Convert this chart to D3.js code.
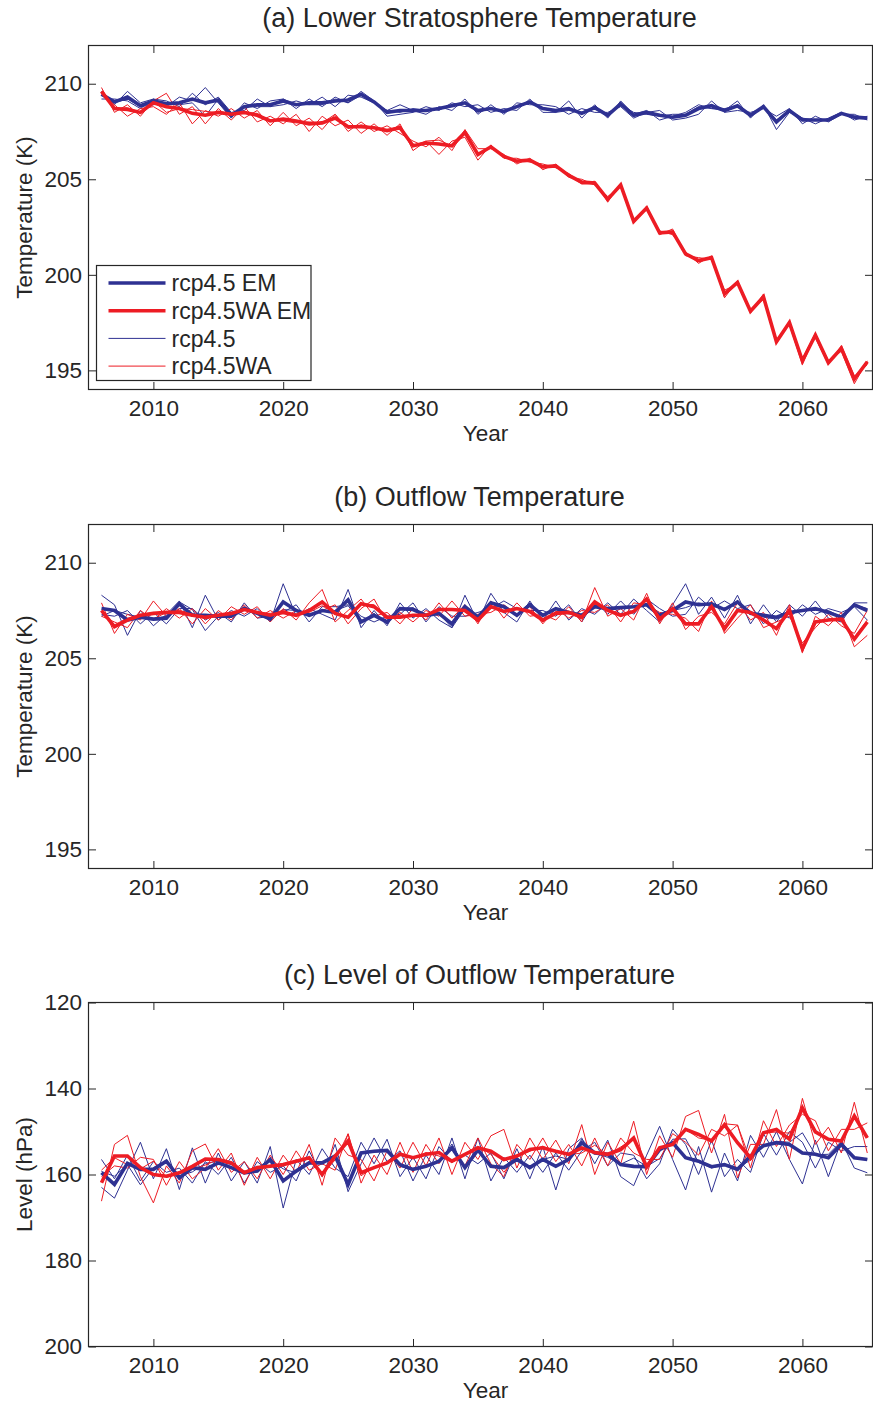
<!DOCTYPE html>
<html>
<head>
<meta charset="utf-8">
<script src="https://cdn.jsdelivr.net/npm/d3@7"></script>
<style>
  body { margin: 0; background: #fff; }
  text { font-family: "Liberation Sans", Arial, Helvetica, sans-serif; fill: #262626; }
</style>
</head>
<body>
<svg id="chart" width="873" height="1404"></svg>
<script>
// ---- categories and tick labels ----
const years = d3.range(2006, 2066);
const yearTicks = [2010, 2020, 2030, 2040, 2050, 2060];
const tempTicks = [195, 200, 205, 210];
const levelTicks = [120, 140, 160, 180, 200];
const panelTitles = ["(a) Lower Stratosphere Temperature", "(b) Outflow Temperature", "(c) Level of Outflow Temperature"];
const panelYLabels = ["Temperature (K)", "Temperature (K)", "Level (hPa)"];
const legendLabels = ["rcp4.5 EM", "rcp4.5WA EM", "rcp4.5", "rcp4.5WA"];

// ---- (a) lower stratosphere temperature, K ----
const strat45EM = [
  209.45, 209.05, 209.3, 208.85, 209.1, 208.95, 209.0, 209.2, 209.0, 209.15,
  208.35, 208.8, 208.9, 208.9, 209.1, 208.9, 209.0, 209.0, 209.1, 209.15,
  209.45, 209.05, 208.5, 208.6, 208.6, 208.6, 208.7, 208.85, 209.0, 208.6,
  208.7, 208.55, 208.8, 209.05, 208.7, 208.6, 208.7, 208.45, 208.75, 208.35,
  208.95, 208.35, 208.5, 208.35, 208.25, 208.35, 208.7, 208.85, 208.6, 208.85,
  208.35, 208.8, 208.0, 208.6, 208.1, 208.1, 208.1, 208.45, 208.25, 208.2];
const strat45M1 = [
  209.6, 208.9, 209.6, 209.0, 209.2, 208.8, 209.3, 209.1, 209.8, 209.0,
  208.2, 209.0, 208.7, 209.1, 209.2, 208.7, 209.2, 208.8, 209.3, 209.0,
  209.6, 209.1, 208.3, 208.4, 208.5, 208.8, 208.6, 209.0, 208.8, 208.9,
  208.5, 208.7, 208.6, 209.2, 208.5, 208.5, 209.1, 208.2, 208.9, 208.2,
  209.1, 208.4, 208.6, 208.1, 208.3, 208.5, 208.9, 208.7, 208.6, 209.1,
  208.2, 208.9, 207.6, 208.5, 208.2, 207.9, 208.2, 208.5, 208.1, 208.3];
const strat45M2 = [
  209.2, 209.2, 209.1, 208.7, 209.2, 209.1, 208.8, 209.5, 208.9, 209.3,
  208.5, 208.6, 209.2, 208.8, 208.9, 209.1, 208.9, 209.3, 208.8, 209.4,
  209.3, 209.0, 208.6, 208.9, 208.6, 208.4, 208.8, 208.6, 209.2, 208.4,
  208.9, 208.4, 209.0, 208.9, 208.9, 208.8, 208.4, 208.7, 208.5, 208.5,
  208.8, 208.2, 208.5, 208.6, 208.1, 208.2, 208.4, 209.1, 208.5, 208.6,
  208.5, 208.7, 208.3, 208.7, 207.9, 208.3, 208.0, 208.4, 208.4, 208.1];
const strat45M3 = [
  209.5, 209.0, 209.2, 208.8, 208.9, 209.0, 208.9, 209.0, 208.3, 209.2,
  208.4, 208.8, 208.8, 208.8, 209.2, 208.9, 208.9, 208.9, 209.2, 209.0,
  209.4, 209.0, 208.6, 208.5, 208.7, 208.6, 208.7, 208.9, 209.0, 208.5,
  208.7, 208.6, 208.8, 209.0, 208.7, 208.5, 208.6, 208.5, 208.8, 208.4,
  208.9, 208.5, 208.4, 208.3, 208.4, 208.4, 208.8, 208.7, 208.7, 208.8,
  208.4, 208.8, 208.1, 208.6, 208.2, 208.1, 208.1, 208.4, 208.3, 208.2];

const stratWAEM = [
  209.6, 208.7, 208.65, 208.5, 209.0, 208.8, 208.7, 208.45, 208.35, 208.5,
  208.4, 208.5, 208.35, 208.05, 208.15, 208.05, 207.9, 207.95, 208.2, 207.75,
  207.75, 207.7, 207.55, 207.7, 206.75, 206.9, 206.85, 206.75, 207.45, 206.3,
  206.7, 206.2, 205.95, 206.0, 205.65, 205.7, 205.2, 204.85, 204.8, 203.95,
  204.7, 202.8, 203.5, 202.2, 202.25, 201.1, 200.75, 200.9, 199.0, 199.6,
  198.1, 198.85, 196.5, 197.5, 195.5, 196.85, 195.4, 196.15, 194.55, 195.45];
const stratWAM1 = [
  209.8, 208.5, 208.9, 208.3, 209.1, 209.5, 208.4, 208.8, 207.9, 208.7,
  208.1, 208.8, 208.0, 208.3, 207.9, 208.4, 207.5, 208.3, 207.8, 208.1,
  207.4, 207.9, 207.3, 207.9, 206.5, 207.0, 206.3, 207.0, 207.2, 206.0,
  206.8, 206.1, 206.1, 205.9, 205.8, 205.6, 205.3, 204.8, 204.9, 203.8,
  204.8, 202.7, 203.6, 202.1, 202.4, 201.0, 200.9, 200.8, 199.2, 199.5,
  198.2, 198.7, 196.6, 197.4, 195.3, 196.9, 195.5, 196.0, 194.3, 195.5];
const stratWAM2 = [
  209.5, 208.9, 208.3, 208.7, 208.8, 208.4, 209.0, 207.9, 208.6, 208.3,
  208.7, 208.2, 208.6, 207.8, 208.5, 207.8, 208.2, 207.6, 208.4, 207.5,
  208.0, 207.5, 207.8, 207.4, 207.0, 206.7, 207.2, 206.5, 207.6, 206.6,
  206.6, 206.3, 205.8, 206.1, 205.5, 205.8, 205.1, 205.0, 204.7, 204.1,
  204.6, 202.9, 203.4, 202.3, 202.1, 201.2, 200.6, 201.0, 198.8, 199.7,
  198.0, 199.0, 196.4, 197.6, 195.6, 196.7, 195.3, 196.3, 194.7, 195.3];
const stratWAM3 = [
  209.5, 208.7, 208.75, 208.5, 209.1, 208.5, 208.7, 208.65, 208.55, 208.5,
  208.4, 208.5, 208.45, 208.05, 208.05, 207.95, 208.0, 207.95, 208.4, 207.65,
  207.85, 207.7, 207.55, 207.8, 206.75, 207.0, 207.05, 206.75, 207.55, 206.3,
  206.7, 206.2, 205.95, 206.0, 205.65, 205.7, 205.2, 204.75, 204.8, 203.95,
  204.7, 202.8, 203.5, 202.2, 202.25, 201.1, 200.75, 200.9, 199.0, 199.6,
  198.1, 198.85, 196.5, 197.5, 195.6, 196.95, 195.4, 196.15, 194.65, 195.45];

// ---- (b) outflow temperature, K ----
const outT45EM = [
  207.6, 207.5, 207.0, 207.15, 207.05, 207.1, 207.85, 207.25, 207.25, 207.2,
  207.2, 207.6, 207.35, 207.05, 207.95, 207.5, 207.25, 207.5, 207.4, 208.05,
  206.9, 207.25, 206.9, 207.6, 207.55, 207.25, 207.35, 206.8, 207.7, 207.15,
  207.9, 207.7, 207.25, 207.8, 207.25, 207.6, 207.4, 207.25, 207.7, 207.6,
  207.65, 207.7, 207.8, 207.25, 207.5, 207.95, 207.8, 207.85, 207.55, 207.95,
  207.35, 207.25, 207.15, 207.4, 207.5, 207.6, 207.4, 207.15, 207.8, 207.5];
const outT45M1 = [
  208.3, 207.8, 206.2, 207.5, 206.7, 207.3, 208.0, 206.6, 208.3, 207.0,
  207.5, 207.2, 207.6, 206.9, 208.9, 207.2, 207.6, 207.3, 207.0, 208.6,
  206.6, 207.5, 206.7, 207.9, 207.1, 207.6, 207.0, 206.6, 208.3, 206.9,
  208.4, 207.4, 206.9, 208.0, 207.0, 208.0, 207.0, 207.6, 207.3, 207.9,
  207.3, 208.1, 207.5, 206.9, 207.8, 208.9, 207.3, 208.2, 207.1, 208.3,
  206.8, 207.8, 206.9, 207.8, 207.2, 208.0, 207.1, 206.9, 207.9, 207.9];
const outT45M2 = [
  207.3, 207.2, 207.5, 206.8, 207.4, 206.8, 207.6, 207.6, 207.0, 207.4,
  206.9, 207.9, 207.1, 207.2, 207.4, 207.8, 206.9, 207.7, 207.7, 207.8,
  207.2, 206.9, 207.2, 207.3, 207.9, 206.9, 207.7, 207.2, 207.2, 207.4,
  207.6, 208.0, 207.6, 207.5, 207.5, 207.2, 207.8, 206.9, 208.0, 207.3,
  208.0, 207.3, 208.1, 207.6, 207.2, 207.3, 208.2, 207.6, 208.0, 207.6,
  207.8, 206.8, 207.5, 207.1, 207.8, 207.3, 207.6, 207.4, 207.7, 207.0];
const outT45M3 = [
  207.2, 207.5, 207.3, 207.15, 207.05, 207.2, 207.95, 207.55, 206.45, 207.2,
  207.2, 207.7, 207.35, 207.05, 207.55, 207.5, 207.25, 207.5, 207.5, 207.75,
  206.9, 207.35, 206.8, 207.6, 207.65, 207.25, 207.35, 206.6, 207.6, 207.15,
  207.7, 207.7, 207.25, 207.9, 207.25, 207.6, 207.4, 207.25, 207.8, 207.6,
  207.65, 207.7, 207.8, 207.25, 207.5, 207.65, 207.9, 207.75, 207.55, 207.95,
  207.45, 207.15, 207.05, 207.3, 207.5, 207.5, 207.5, 207.15, 207.8, 207.6];

const outTWAEM = [
  207.5, 206.65, 207.0, 207.25, 207.35, 207.4, 207.4, 207.25, 207.15, 207.25,
  207.35, 207.55, 207.4, 207.25, 207.4, 207.25, 207.5, 207.95, 207.35, 207.15,
  207.85, 207.7, 207.15, 207.15, 207.25, 207.25, 207.55, 207.55, 207.5, 207.0,
  207.7, 207.45, 207.6, 207.45, 207.0, 207.35, 207.4, 207.15, 207.95, 207.5,
  207.25, 207.45, 208.1, 207.05, 207.6, 206.8, 206.8, 207.7, 206.55, 207.5,
  207.4, 207.0, 206.55, 207.5, 205.5, 206.9, 207.0, 207.05, 206.0, 206.9];
const outTWAM1 = [
  207.9, 206.3, 207.3, 207.0, 208.0, 207.2, 207.6, 206.8, 207.6, 207.0,
  207.7, 207.3, 207.7, 206.9, 207.6, 207.0, 207.9, 208.6, 206.9, 207.5,
  208.1, 207.2, 207.4, 206.8, 207.6, 207.0, 207.9, 207.1, 207.8, 206.8,
  208.0, 207.1, 207.9, 207.2, 207.3, 207.0, 207.7, 206.9, 208.7, 207.2,
  207.6, 207.0, 208.4, 206.8, 207.9, 206.5, 207.2, 207.4, 206.8, 207.9,
  207.0, 207.4, 206.2, 207.8, 205.3, 207.2, 206.7, 207.4, 205.6, 206.2];
const outTWAM2 = [
  207.2, 206.9, 206.6, 207.5, 207.0, 207.6, 207.1, 207.6, 206.8, 207.5,
  207.0, 207.8, 207.1, 207.5, 207.1, 207.5, 207.2, 207.5, 207.8, 206.8,
  207.6, 208.1, 206.9, 207.4, 206.9, 207.5, 207.2, 208.0, 207.2, 207.3,
  207.4, 207.8, 207.3, 207.7, 206.8, 207.6, 207.1, 207.5, 207.4, 207.8,
  206.9, 207.9, 207.8, 207.4, 207.3, 207.1, 206.4, 208.0, 206.3, 207.1,
  207.8, 206.6, 206.9, 207.2, 205.8, 206.6, 207.3, 206.7, 206.3, 207.5];
const outTWAM3 = [
  207.4, 206.75, 207.1, 207.25, 207.05, 207.4, 207.5, 207.35, 207.05, 207.25,
  207.35, 207.55, 207.4, 207.35, 207.5, 207.25, 207.4, 207.75, 207.35, 207.15,
  207.85, 207.8, 207.15, 207.25, 207.25, 207.25, 207.55, 207.55, 207.5, 206.9,
  207.7, 207.45, 207.6, 207.45, 206.9, 207.45, 207.4, 207.05, 207.75, 207.5,
  207.25, 207.45, 208.1, 206.95, 207.6, 206.8, 206.8, 207.7, 206.55, 207.5,
  207.4, 207.0, 206.55, 207.5, 205.4, 206.9, 207.0, 207.05, 206.1, 207.0];

// ---- (c) level of outflow temperature, hPa ----
const outP45EM = [
  159.6, 162.3, 157.4, 158.8, 158.8, 156.9, 160.8, 158.4, 158.8, 157.3,
  158.4, 159.6, 159.2, 156.5, 161.5, 159.2, 157.3, 157.3, 155.7, 162.3,
  155.0, 154.6, 154.4, 157.7, 158.8, 158.1, 156.9, 153.8, 158.4, 154.3,
  158.1, 158.4, 156.5, 158.4, 156.5, 158.1, 156.5, 152.6, 155.0, 155.3,
  157.7, 158.1, 158.2, 154.2, 152.6, 156.1, 156.9, 158.2, 157.7, 158.8,
  155.7, 153.3, 152.6, 153.0, 155.0, 155.3, 156.1, 153.0, 156.1, 156.5];
const outP45M1 = [
  163.0, 165.5, 159.0, 152.5, 161.0, 154.0, 163.5, 153.8, 162.0, 155.0,
  161.5, 157.0, 162.0, 153.5, 167.8, 156.5, 160.0, 154.0, 158.5, 160.5,
  152.5, 157.5, 151.8, 160.5, 156.0, 161.0, 153.5, 157.0, 155.5, 157.5,
  155.0, 161.0, 154.0, 161.0, 153.5, 163.6, 154.0, 151.5, 157.5, 152.0,
  160.5, 162.6, 155.5, 148.8, 156.5, 163.6, 153.5, 164.1, 155.0, 161.5,
  150.9, 156.0, 150.0, 156.5, 162.2, 152.0, 160.5, 152.2, 158.5, 159.6];
const outP45M2 = [
  156.5, 161.0, 155.5, 161.5, 157.0, 159.5, 158.5, 162.0, 157.0, 160.0,
  156.0, 162.0, 157.0, 159.5, 158.0, 161.5, 154.5, 160.5, 153.0, 164.0,
  157.5, 151.5, 157.0, 154.5, 161.5, 155.5, 160.0, 151.5, 161.0, 151.5,
  161.5, 156.0, 159.5, 155.5, 159.5, 155.0, 159.0, 154.5, 152.5, 158.0,
  155.0, 155.5, 161.0, 157.5, 149.5, 153.0, 160.0, 152.0, 160.5, 156.5,
  159.5, 150.5, 155.5, 150.0, 152.5, 158.5, 152.5, 154.5, 153.5, 153.5];
const outP45M3 = [
  159.3, 160.4, 157.7, 162.4, 158.4, 157.2, 160.4, 159.4, 157.4, 156.9,
  157.7, 159.8, 158.6, 156.5, 158.7, 159.6, 157.4, 157.4, 155.6, 162.4,
  155.0, 154.8, 154.4, 158.1, 158.9, 157.8, 157.2, 152.9, 158.7, 153.9,
  157.8, 158.2, 156.0, 158.7, 156.5, 155.7, 156.5, 151.8, 155.0, 156.0,
  157.6, 156.2, 158.1, 156.3, 151.8, 151.7, 157.2, 158.5, 157.6, 158.4,
  156.7, 153.4, 152.3, 152.5, 150.3, 155.4, 155.3, 152.3, 156.3, 156.4];

const outPWAEM = [
  161.9, 155.7, 155.7, 158.4, 160.0, 160.4, 159.6, 158.1, 156.4, 156.5,
  157.3, 159.6, 158.4, 158.1, 157.7, 156.9, 156.1, 160.0, 155.7, 152.2,
  159.6, 158.4, 157.3, 155.3, 156.1, 155.3, 154.9, 156.9, 155.3, 153.8,
  154.6, 156.5, 155.7, 154.2, 153.8, 154.6, 155.3, 153.8, 154.9, 155.3,
  154.2, 151.5, 158.2, 153.8, 153.0, 149.5, 150.7, 152.2, 148.4, 152.6,
  156.1, 150.3, 149.5, 151.8, 144.5, 150.1, 151.8, 152.2, 146.4, 151.5];
const outPWAM1 = [
  166.2, 153.0, 150.9, 160.5, 166.6, 158.0, 162.0, 154.5, 152.9, 159.0,
  155.0, 162.5, 156.0, 161.0, 155.5, 159.5, 153.0, 162.5, 151.5, 155.5,
  156.5, 161.5, 154.5, 158.5, 152.5, 158.0, 151.5, 160.0, 152.5, 156.5,
  151.0, 149.5, 158.5, 151.5, 156.5, 152.0, 157.5, 148.4, 160.0, 152.5,
  157.5, 147.6, 160.0, 151.0, 156.0, 146.5, 145.1, 155.0, 146.0, 160.8,
  153.0, 153.0, 144.9, 156.5, 142.3, 153.0, 149.0, 155.0, 143.2, 155.0];
const outPWAM2 = [
  160.5, 158.0, 158.5, 156.0, 156.5, 162.5, 157.0, 161.0, 158.5, 154.0,
  159.5, 157.0, 161.0, 155.5, 160.0, 154.5, 159.0, 157.5, 159.0, 150.5,
  162.0, 155.5, 160.0, 152.5, 159.5, 153.0, 157.5, 153.5, 158.0, 151.5,
  157.5, 160.5, 153.0, 156.5, 151.5, 157.0, 153.0, 158.0, 151.5, 158.0,
  151.5, 155.0, 156.5, 156.5, 150.5, 152.5, 155.5, 149.5, 151.0, 148.5,
  158.5, 147.5, 153.5, 148.5, 146.0, 147.5, 154.5, 149.5, 149.5, 148.0];
const outPWAM3 = [
  159.0, 156.1, 157.7, 158.7, 156.9, 160.7, 159.8, 158.8, 157.8, 156.5,
  157.4, 159.3, 158.2, 157.8, 157.6, 156.7, 156.3, 160.0, 156.6, 150.6,
  160.3, 158.2, 157.4, 154.9, 156.3, 154.9, 155.7, 157.2, 155.4, 153.4,
  155.3, 159.5, 155.6, 154.6, 153.4, 154.8, 155.4, 155.0, 153.2, 155.4,
  153.6, 151.9, 158.1, 153.9, 152.5, 149.5, 151.5, 152.1, 148.2, 148.5,
  156.8, 150.4, 150.1, 150.4, 145.2, 149.8, 151.9, 152.1, 146.5, 151.5];

// ---- styling ----
const BLUE = "#2e3192";
const RED = "#ed1c24";
const INK = "#262626";
const THICK = 3.6, THIN = 1;

// panel table assembled from the arrays above
const panels = [
  { title: panelTitles[0], ylabel: panelYLabels[0], domain: [194, 212], ticks: tempTicks,
    em45: strat45EM, emWA: stratWAEM,
    m45: [strat45M1, strat45M2, strat45M3], mWA: [stratWAM1, stratWAM2, stratWAM3], legend: true },
  { title: panelTitles[1], ylabel: panelYLabels[1], domain: [194, 212], ticks: tempTicks,
    em45: outT45EM, emWA: outTWAEM,
    m45: [outT45M1, outT45M2, outT45M3], mWA: [outTWAM1, outTWAM2, outTWAM3], legend: false },
  { title: panelTitles[2], ylabel: panelYLabels[2], domain: [200, 120], ticks: levelTicks,
    em45: outP45EM, emWA: outPWAEM,
    m45: [outP45M1, outP45M2, outP45M3], mWA: [outPWAM1, outPWAM2, outPWAM3], legend: false }
];

const svg = d3.select("#chart");
const left = 88.5, right = 872.5, plotH = 344;
const tops = [45.5, 524.5, 1002.5];
const TICK = 7.5;

const x = d3.scaleLinear().domain([2005, 2065.4]).range([left, right]);

panels.forEach((p, i) => {
  const top = tops[i], bottom = top + plotH;
  const y = d3.scaleLinear().domain(p.domain).range([bottom, top]);
  const g = svg.append("g");

  const clipId = "clip" + i;
  svg.append("clipPath").attr("id", clipId)
    .append("rect").attr("x", left).attr("y", top).attr("width", right - left).attr("height", plotH);

  const line = d3.line().x((d, k) => x(years[k])).y(d => y(d));
  const plot = g.append("g").attr("clip-path", `url(#${clipId})`);

  const drawSeries = (arr, color, w) => plot.append("path")
    .datum(arr).attr("d", line)
    .attr("fill", "none").attr("stroke", color).attr("stroke-width", w)
    .attr("stroke-linejoin", "miter").attr("stroke-miterlimit", 3);

  p.m45.forEach(m => drawSeries(m, BLUE, THIN));
  p.mWA.forEach(m => drawSeries(m, RED, THIN));
  drawSeries(p.em45, BLUE, THICK);
  drawSeries(p.emWA, RED, THICK);

  // axes: ticks point inward on all four sides
  const axB = g.append("g").attr("transform", `translate(0,${bottom})`)
    .call(d3.axisBottom(x).tickValues(yearTicks).tickFormat(d3.format("d"))
      .tickSizeInner(-TICK).tickSizeOuter(0).tickPadding(11));
  const axT = g.append("g").attr("transform", `translate(0,${top})`)
    .call(d3.axisTop(x).tickValues(yearTicks).tickFormat("")
      .tickSizeInner(-TICK).tickSizeOuter(0));
  const axL = g.append("g").attr("transform", `translate(${left},0)`)
    .call(d3.axisLeft(y).tickValues(p.ticks).tickFormat(d3.format("d"))
      .tickSizeInner(-TICK).tickSizeOuter(0).tickPadding(6.5));
  const axR = g.append("g").attr("transform", `translate(${right},0)`)
    .call(d3.axisRight(y).tickValues(p.ticks).tickFormat("")
      .tickSizeInner(-TICK).tickSizeOuter(0));
  [axB, axT, axL, axR].forEach(a => {
    a.select(".domain").remove();
    a.selectAll(".tick line").attr("stroke", INK).attr("stroke-width", 1);
    a.selectAll(".tick text").attr("font-size", 22.5).attr("fill", INK)
      .style("font-family", '"Liberation Sans", Arial, sans-serif');
  });

  g.append("rect").attr("x", left).attr("y", top)
    .attr("width", right - left).attr("height", plotH)
    .attr("fill", "none").attr("stroke", INK).attr("stroke-width", 1.2);

  // titles and axis labels
  g.append("text").attr("x", (left + right) / 2 - 1).attr("y", top - 19)
    .attr("text-anchor", "middle").attr("font-size", 27).text(p.title);
  g.append("text").attr("x", (left + right) / 2 + 5).attr("y", bottom + 51)
    .attr("text-anchor", "middle").attr("font-size", 22.5).text("Year");
  g.append("text")
    .attr("transform", `translate(32,${(top + bottom) / 2}) rotate(-90)`)
    .attr("text-anchor", "middle").attr("font-size", 22.5).text(p.ylabel);

  if (p.legend) {
    const lg = g.append("g");
    const bx = 96.5, by = 265.5, bw = 214.5, bh = 115;
    lg.append("rect").attr("x", bx).attr("y", by).attr("width", bw).attr("height", bh)
      .attr("fill", "#fff").attr("stroke", INK).attr("stroke-width", 1.2);
    const legendColors = [BLUE, RED, BLUE, RED];
    const legendWidths = [THICK, THICK, THIN, THIN];
    legendLabels.forEach((lab, k) => {
      const cy = by + 17.5 + k * 27.7;
      lg.append("line").attr("x1", bx + 12).attr("x2", bx + 69)
        .attr("y1", cy).attr("y2", cy)
        .attr("stroke", legendColors[k]).attr("stroke-width", legendWidths[k]);
      lg.append("text").attr("x", bx + 75).attr("y", cy).attr("dy", "0.36em")
        .attr("font-size", 23).text(lab);
    });
  }
});
</script>
</body>
</html>
